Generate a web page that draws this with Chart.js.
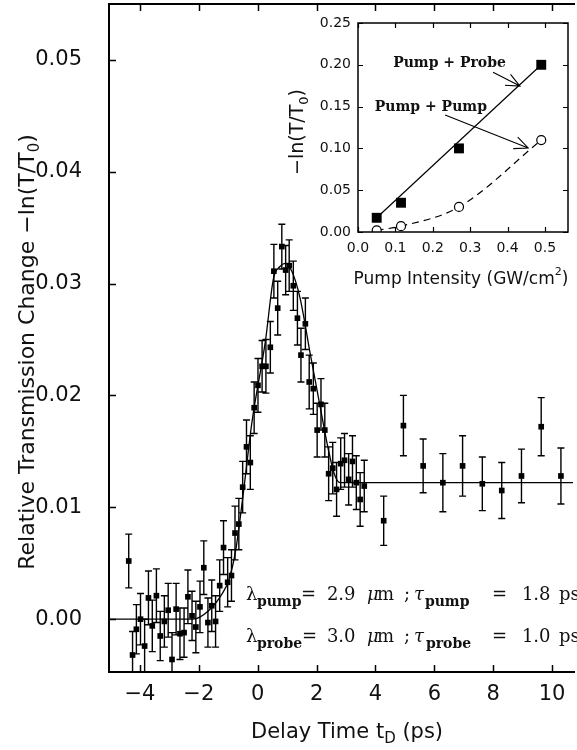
<!DOCTYPE html>
<html>
<head>
<meta charset="utf-8">
<script src="https://cdn.jsdelivr.net/npm/chart.js@4.4.1/dist/chart.umd.min.js"></script>
<style>
    html, body { margin: 0; padding: 0; background: #fff; }
    #wrap { position: relative; width: 577px; height: 750px; overflow: hidden; }
    #main-chart { position: absolute; left: 0; top: 0; }
    #inset-chart { position: absolute; left: 285px; top: 8px; }
</style>
</head>
<body>
<div id="wrap">
    <canvas id="main-chart" width="577" height="750"></canvas>
    <canvas id="inset-chart" width="292" height="290"></canvas>
</div>
<script>
// main plot data (delay time in ps, -ln(T/T0))
var delayTimes = [-4.38, -4.25, -4.12, -3.98, -3.84, -3.71, -3.58, -3.44, -3.31, -3.17,
    -3.04, -2.91, -2.77, -2.64, -2.50, -2.37, -2.23, -2.10, -1.96, -1.83,
    -1.69, -1.56, -1.43, -1.29, -1.16, -1.02, -0.89, -0.77, -0.64, -0.51,
    -0.38, -0.25, -0.12, 0.01, 0.15, 0.28, 0.43, 0.55, 0.68, 0.82,
    0.95, 1.07, 1.21, 1.35, 1.47, 1.62, 1.75, 1.89, 2.02, 2.15,
    2.28, 2.41, 2.55, 2.68, 2.82, 2.95, 3.09, 3.22, 3.35, 3.48,
    3.62, 4.28, 4.95, 5.62, 6.29, 6.96, 7.63, 8.29, 8.96, 9.63, 10.30];
var transChange = [0.0052, -0.0032, -0.0009, 0.0000, -0.0024, 0.0019, -0.0006, 0.0021, -0.0015, -0.0002,
    0.0008, -0.0036, 0.0009, -0.0013, -0.0012, 0.0020, 0.0003, -0.0007, 0.0011, 0.0046,
    -0.0003, 0.0012, -0.0002, 0.0030, 0.0064, 0.0033, 0.0039, 0.0077, 0.0085, 0.0118,
    0.0154, 0.0140, 0.0189, 0.0209, 0.0226, 0.0226, 0.0243, 0.0311, 0.0278, 0.0333,
    0.0312, 0.0316, 0.0298, 0.0269, 0.0236, 0.0264, 0.0212, 0.0206, 0.0169, 0.0192,
    0.0169, 0.0130, 0.0135, 0.0116, 0.0139, 0.0142, 0.0125, 0.0141, 0.0122, 0.0107,
    0.0119, 0.0088, 0.0173, 0.0137, 0.0122, 0.0137, 0.0121, 0.0115, 0.0128, 0.0172, 0.0128];
var transError = [0.0024, 0.0021, 0.0022, 0.0023, 0.0024, 0.0024, 0.0023, 0.0024, 0.0022, 0.0023,
    0.0024, 0.0024, 0.0023, 0.0023, 0.0022, 0.0024, 0.0022, 0.0023, 0.0023, 0.0024,
    0.0022, 0.0023, 0.0023, 0.0023, 0.0024, 0.0022, 0.0023, 0.0024, 0.0023, 0.0023,
    0.0024, 0.0024, 0.0023, 0.0024, 0.0023, 0.0024, 0.0023, 0.0024, 0.0024, 0.0020,
    0.0022, 0.0023, 0.0022, 0.0024, 0.0024, 0.0023, 0.0024, 0.0023, 0.0024, 0.0023,
    0.0024, 0.0024, 0.0023, 0.0024, 0.0023, 0.0024, 0.0023, 0.0023, 0.0024, 0.0024,
    0.0023, 0.0022, 0.0027, 0.0024, 0.0026, 0.0027, 0.0024, 0.0025, 0.0024, 0.0026, 0.0025];

// fitted curve
var fitTimes = [-5.10, -2.20, -1.65, -1.20, -0.98, -0.75, -0.50, -0.19, 0.26, 0.54,
    0.75, 0.93, 1.16, 1.44, 1.80, 2.17, 2.39, 2.60, 2.80, 11.00];
var fitValues = [0.0000, 0.0000, 0.0008, 0.0023, 0.0035, 0.0061, 0.0110, 0.0177, 0.0248, 0.0305,
    0.0315, 0.0318, 0.0311, 0.0287, 0.0235, 0.0183, 0.0153, 0.0130, 0.0122, 0.0122];

var delayTicks = [-4, -2, 0, 2, 4, 6, 8, 10];
var changeTicks = [0.00, 0.01, 0.02, 0.03, 0.04, 0.05];

// inset data
var pumpIntensity = [0.05, 0.115, 0.27, 0.49];
var pumpProbe = [0.017, 0.035, 0.100, 0.200];
var pumpPump = [0.002, 0.007, 0.030, 0.110];
var probeFitX = [0.05, 0.49];
var probeFitY = [0.017, 0.200];
var intensityTicks = [0.0, 0.1, 0.2, 0.3, 0.4, 0.5];
var lnTicks = [0.00, 0.05, 0.10, 0.15, 0.20, 0.25];

// globals
var mainChart = null;
var insetChart = null;
var textColor = '#111';
var sansFont = 'DejaVu Sans';
var serifFont = 'DejaVu Serif';

function toPoints(xs, ys) {
    var pts = [];
    for (var i = 0; i < xs.length; i++)
        pts.push({ x: xs[i], y: ys[i] });
    return pts;
}

function fixedTicks(values) {
    return function (scale) {
        scale.ticks = values.map(function (v) { return { value: v }; });
    };
}

// keep the chart area exactly where the layout puts it
function fixSize(prop, size) {
    return function (scale) {
        scale[prop] = size;
        scale.paddingTop = 0;
        scale.paddingBottom = 0;
        scale.paddingLeft = 0;
        scale.paddingRight = 0;
    };
}

function drawParts(ctx, x, y, parts, align) {
    var total = 0;
    for (var i = 0; i < parts.length; i++) {
        ctx.font = parts[i].f;
        total += ctx.measureText(parts[i].t).width;
    }
    var cur = align === 'center' ? x - total / 2 : x;
    ctx.textAlign = 'left';
    ctx.textBaseline = 'alphabetic';
    for (var j = 0; j < parts.length; j++) {
        ctx.font = parts[j].f;
        ctx.fillText(parts[j].t, cur, y + (parts[j].dy || 0));
        cur += ctx.measureText(parts[j].t).width;
    }
}

// parts with their own offset from the start x
function drawPlaced(ctx, x, y, parts) {
    ctx.textAlign = 'left';
    ctx.textBaseline = 'alphabetic';
    for (var i = 0; i < parts.length; i++) {
        ctx.font = parts[i].f;
        ctx.fillText(parts[i].t, x + parts[i].ox, y + (parts[i].dy || 0));
    }
}

function drawArrow(ctx, x1, y1, x2, y2) {
    var ang = Math.atan2(y2 - y1, x2 - x1);
    var len = 15, spread = 0.42;
    ctx.beginPath();
    ctx.moveTo(x1, y1);
    ctx.lineTo(x2, y2);
    ctx.moveTo(x2 - len * Math.cos(ang - spread), y2 - len * Math.sin(ang - spread));
    ctx.lineTo(x2, y2);
    ctx.lineTo(x2 - len * Math.cos(ang + spread), y2 - len * Math.sin(ang + spread));
    ctx.stroke();
}

function drawInwardTicks(ctx, chart, xVals, yVals, len, sides) {
    var a = chart.chartArea;
    var xs = chart.scales.x, ys = chart.scales.y;
    ctx.beginPath();
    for (var i = 0; i < xVals.length; i++) {
        var px = Math.round(xs.getPixelForValue(xVals[i])) + 0.5;
        if (sides.bottom) { ctx.moveTo(px, a.bottom); ctx.lineTo(px, a.bottom - len); }
        if (sides.top) { ctx.moveTo(px, a.top); ctx.lineTo(px, a.top + len); }
    }
    for (var j = 0; j < yVals.length; j++) {
        var py = Math.round(ys.getPixelForValue(yVals[j])) + 0.5;
        if (sides.left) { ctx.moveTo(a.left, py); ctx.lineTo(a.left + len, py); }
        if (sides.right) { ctx.moveTo(a.right, py); ctx.lineTo(a.right - len, py); }
    }
    ctx.stroke();
}

var mainDecor = {
    id: 'mainDecor',
    beforeDatasetsDraw: function (chart) {
        // error bars
        var ctx = chart.ctx, a = chart.chartArea;
        var xs = chart.scales.x, ys = chart.scales.y;
        ctx.save();
        ctx.beginPath();
        ctx.rect(a.left, a.top, a.right - a.left, a.bottom - a.top);
        ctx.clip();
        ctx.strokeStyle = '#000';
        ctx.lineWidth = 1.4;
        ctx.beginPath();
        for (var i = 0; i < delayTimes.length; i++) {
            var px = xs.getPixelForValue(delayTimes[i]);
            var top = ys.getPixelForValue(transChange[i] + transError[i]);
            var bot = ys.getPixelForValue(transChange[i] - transError[i]);
            ctx.moveTo(px, top); ctx.lineTo(px, bot);
            ctx.moveTo(px - 3.5, top); ctx.lineTo(px + 3.5, top);
            ctx.moveTo(px - 3.5, bot); ctx.lineTo(px + 3.5, bot);
        }
        ctx.stroke();
        ctx.restore();
    },
    afterDraw: function (chart) {
        var ctx = chart.ctx, a = chart.chartArea;
        var xs = chart.scales.x, ys = chart.scales.y;
        ctx.save();
        ctx.strokeStyle = '#000';
        ctx.lineWidth = 2;
        ctx.beginPath();
        ctx.moveTo(a.right + 2, a.top);
        ctx.lineTo(a.left, a.top);
        ctx.lineTo(a.left, a.bottom);
        ctx.lineTo(a.right + 2, a.bottom);
        ctx.stroke();
        ctx.lineWidth = 1.5;
        drawInwardTicks(ctx, chart, delayTicks, changeTicks, 7, { bottom: true, top: true, left: true });

        ctx.fillStyle = textColor;
        // x title
        drawParts(ctx, 347, 738, [
            { t: 'Delay Time t', f: '21px ' + sansFont },
            { t: 'D', f: '15px ' + sansFont, dy: 5 },
            { t: ' (ps)', f: '21px ' + sansFont }
        ], 'center');
        // y title
        ctx.save();
        ctx.translate(26, 352);
        ctx.rotate(-Math.PI / 2);
        drawParts(ctx, 0, 8, [
            { t: 'Relative Transmission Change \u2212ln(T/T', f: '22px ' + sansFont },
            { t: '0', f: '15px ' + sansFont, dy: 5 },
            { t: ')', f: '22px ' + sansFont }
        ], 'center');
        ctx.restore();

        // wavelength / pulse width note
        var x0 = xs.getPixelForValue(-0.40);
        var y1 = ys.getPixelForValue(0.0017);
        var y2 = ys.getPixelForValue(-0.0020);
        var big = '18px ' + serifFont, ital = 'italic 18px ' + serifFont, sub = 'bold 14px ' + serifFont;
        drawPlaced(ctx, x0, y1, [
            { t: '\u03bb', f: big, ox: 0 }, { t: 'pump', f: sub, ox: 11, dy: 6 },
            { t: '=', f: big, ox: 55 }, { t: '2.9', f: big, ox: 81 },
            { t: '\u03bc', f: ital, ox: 121 }, { t: 'm', f: big, ox: 131 },
            { t: ';', f: big, ox: 158 }, { t: '\u03c4', f: ital, ox: 168 },
            { t: 'pump', f: sub, ox: 179, dy: 6 }, { t: '=', f: big, ox: 246 },
            { t: '1.8', f: big, ox: 276 }, { t: 'ps', f: big, ox: 313 }
        ]);
        drawPlaced(ctx, x0, y2, [
            { t: '\u03bb', f: big, ox: 0 }, { t: 'probe', f: sub, ox: 11, dy: 6 },
            { t: '=', f: big, ox: 56 }, { t: '3.0', f: big, ox: 81 },
            { t: '\u03bc', f: ital, ox: 121 }, { t: 'm', f: big, ox: 131 },
            { t: ';', f: big, ox: 158 }, { t: '\u03c4', f: ital, ox: 168 },
            { t: 'probe', f: sub, ox: 180, dy: 6 }, { t: '=', f: big, ox: 246 },
            { t: '1.0', f: big, ox: 276 }, { t: 'ps', f: big, ox: 313 }
        ]);
        ctx.restore();
    }
};

var insetDecor = {
    id: 'insetDecor',
    afterDraw: function (chart) {
        var ctx = chart.ctx, a = chart.chartArea;
        var xs = chart.scales.x, ys = chart.scales.y;
        ctx.save();
        ctx.strokeStyle = '#000';
        ctx.lineWidth = 1.5;
        ctx.strokeRect(a.left, a.top, a.right - a.left, a.bottom - a.top);
        ctx.lineWidth = 1.2;
        drawInwardTicks(ctx, chart, intensityTicks, lnTicks, 5, { bottom: true, top: true, left: true, right: true });

        ctx.fillStyle = textColor;
        drawParts(ctx, 176, 276, [
            { t: 'Pump Intensity (GW/cm', f: '17px ' + sansFont },
            { t: '2', f: '11px ' + sansFont, dy: -9 },
            { t: ')', f: '17px ' + sansFont }
        ], 'center');
        ctx.save();
        ctx.translate(11, 124);
        ctx.rotate(-Math.PI / 2);
        drawParts(ctx, 0, 7, [
            { t: '\u2212ln(T/T', f: '19px ' + sansFont },
            { t: '0', f: '13px ' + sansFont, dy: 5 },
            { t: ')', f: '19px ' + sansFont }
        ], 'center');
        ctx.restore();

        // labels with arrows
        ctx.font = 'bold 14px ' + serifFont;
        ctx.textAlign = 'left';
        ctx.textBaseline = 'middle';
        ctx.fillText('Pump + Probe', xs.getPixelForValue(0.094), ys.getPixelForValue(0.202));
        ctx.fillText('Pump + Pump', xs.getPixelForValue(0.045), ys.getPixelForValue(0.1495));
        ctx.lineWidth = 1.1;
        drawArrow(ctx, xs.getPixelForValue(0.361), ys.getPixelForValue(0.191),
            xs.getPixelForValue(0.433), ys.getPixelForValue(0.1746));
        drawArrow(ctx, xs.getPixelForValue(0.233), ys.getPixelForValue(0.140),
            xs.getPixelForValue(0.455), ys.getPixelForValue(0.1005));
        ctx.restore();
    }
};

function BuildMainChart() {
    var ctx = document.getElementById('main-chart');
    if (mainChart)
        mainChart.destroy();

    mainChart = new Chart(ctx, {
        type: 'scatter',
        data: {
            datasets: [{
                label: 'Measured',
                data: toPoints(delayTimes, transChange),
                pointStyle: 'rect',
                pointRadius: 4,
                backgroundColor: '#000',
                borderColor: '#000',
                borderWidth: 0,
                showLine: false
            }, {
                label: 'Fit',
                data: toPoints(fitTimes, fitValues),
                showLine: true,
                pointRadius: 0,
                borderColor: '#000',
                borderWidth: 1.3,
                cubicInterpolationMode: 'monotone'
            }]
        },
        options: {
            responsive: false,
            animation: false,
            devicePixelRatio: 1,
            layout: { padding: { top: 1, left: 0, right: 0, bottom: 0 } },
            plugins: { legend: { display: false }, tooltip: { enabled: false } },
            scales: {
                x: {
                    type: 'linear',
                    min: -5.05,
                    max: 10.71,
                    grid: { display: false, drawTicks: false },
                    border: { display: false },
                    afterBuildTicks: fixedTicks(delayTicks),
                    afterFit: fixSize('height', 78),
                    ticks: {
                        padding: 10,
                        autoSkip: false,
                        maxRotation: 0,
                        color: textColor,
                        font: { family: sansFont, size: 21 },
                        callback: function (v) { return v < 0 ? '\u2212' + Math.abs(v) : String(v); }
                    }
                },
                y: {
                    min: -0.00472,
                    max: 0.05498,
                    grid: { display: false, drawTicks: false },
                    border: { display: false },
                    afterBuildTicks: fixedTicks(changeTicks),
                    afterFit: fixSize('width', 109),
                    ticks: {
                        padding: 27,
                        color: textColor,
                        font: { family: sansFont, size: 21 },
                        callback: function (v) { return v.toFixed(2); }
                    }
                }
            }
        },
        plugins: [mainDecor]
    });
}

function BuildInsetChart() {
    var ctx = document.getElementById('inset-chart');
    if (insetChart)
        insetChart.destroy();

    insetChart = new Chart(ctx, {
        type: 'scatter',
        data: {
            datasets: [{
                label: 'Pump + Probe',
                data: toPoints(pumpIntensity, pumpProbe),
                pointStyle: 'rect',
                pointRadius: 7,
                backgroundColor: '#000',
                borderColor: '#000',
                borderWidth: 0,
                showLine: false
            }, {
                label: 'Pump + Probe fit',
                data: toPoints(probeFitX, probeFitY),
                showLine: true,
                pointRadius: 0,
                borderColor: '#000',
                borderWidth: 1.2
            }, {
                label: 'Pump + Pump',
                data: toPoints(pumpIntensity, pumpPump),
                showLine: true,
                pointStyle: 'circle',
                pointRadius: 4.5,
                pointBackgroundColor: '#fff',
                pointBorderColor: '#000',
                pointBorderWidth: 1.2,
                borderColor: '#000',
                borderWidth: 1.2,
                borderDash: [7, 5],
                cubicInterpolationMode: 'monotone'
            }]
        },
        options: {
            responsive: false,
            animation: false,
            devicePixelRatio: 1,
            layout: { padding: { top: 15, left: 0, right: 9, bottom: 0 } },
            plugins: { legend: { display: false }, tooltip: { enabled: false } },
            scales: {
                x: {
                    type: 'linear',
                    min: 0,
                    max: 0.5615,
                    grid: { display: false, drawTicks: false },
                    border: { display: false },
                    afterBuildTicks: fixedTicks(intensityTicks),
                    afterFit: fixSize('height', 66),
                    ticks: {
                        padding: 8,
                        autoSkip: false,
                        maxRotation: 0,
                        color: textColor,
                        font: { family: sansFont, size: 14 },
                        callback: function (v) { return v.toFixed(1); }
                    }
                },
                y: {
                    min: 0,
                    max: 0.25,
                    grid: { display: false, drawTicks: false },
                    border: { display: false },
                    afterBuildTicks: fixedTicks(lnTicks),
                    afterFit: fixSize('width', 73),
                    ticks: {
                        padding: 7,
                        color: textColor,
                        font: { family: sansFont, size: 14 },
                        callback: function (v) { return v.toFixed(2); }
                    }
                }
            }
        },
        plugins: [insetDecor]
    });
}

// starting scripts
BuildMainChart();
BuildInsetChart();
</script>
</body>
</html>
